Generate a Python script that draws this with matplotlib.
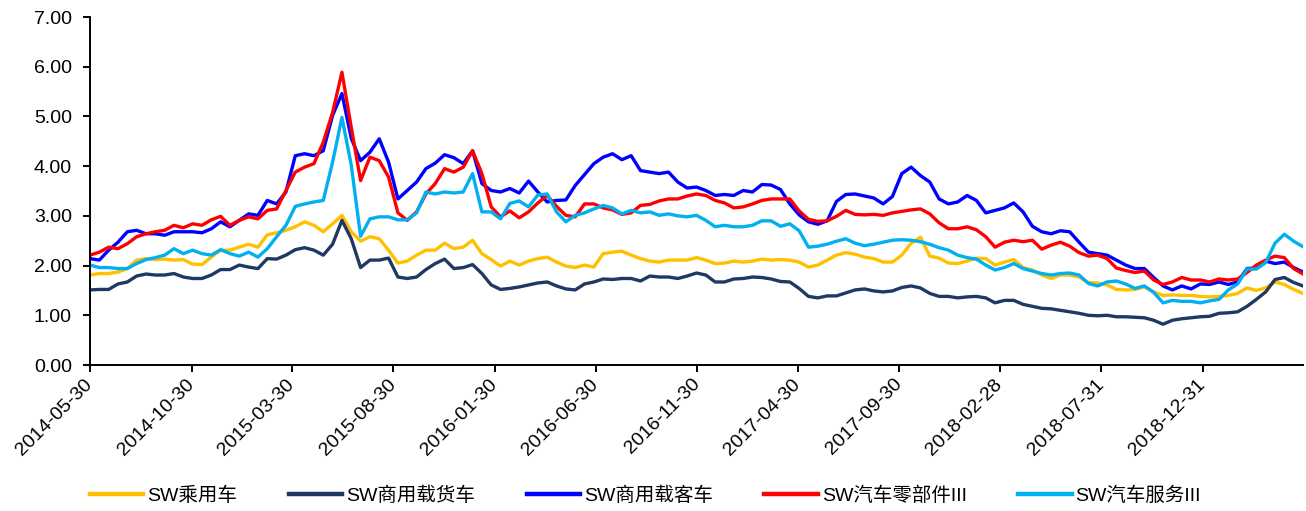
import matplotlib
matplotlib.use("Agg")
import matplotlib.pyplot as plt
import pandas as pd

plt.rcParams['font.family'] = ['Liberation Sans', 'Noto Sans CJK SC', 'DejaVu Sans']

start_date = '2014-05-30'
end_date = '2019-05-31'
n_points = 131

series_names = ['SW乘用车', 'SW商用载货车', 'SW商用载客车', 'SW汽车零部件III', 'SW汽车服务III']
series_colors = ['#FFC000', '#1F3864', '#0000FF', '#FF0000', '#00B0F0']

passenger_car = [
    1.81, 1.84, 1.84, 1.87, 1.94, 2.11, 2.14, 2.12, 2.13, 2.11, 2.12, 2.03, 2.02, 2.17, 2.31, 2.31, 2.37, 2.43, 2.37, 2.62, 2.66, 2.71, 2.78,
    2.88, 2.81, 2.68, 2.84, 3.01, 2.68, 2.49, 2.58, 2.54, 2.31, 2.05, 2.09, 2.21, 2.31, 2.31, 2.45, 2.34, 2.37, 2.51, 2.24, 2.12, 1.99,
    2.09, 2.01, 2.09, 2.14, 2.17, 2.07, 1.99, 1.96, 2.01, 1.97, 2.24, 2.27, 2.29, 2.21, 2.14, 2.09, 2.07, 2.11, 2.11, 2.11, 2.16, 2.11,
    2.04, 2.05, 2.09, 2.07, 2.09, 2.13, 2.11, 2.12, 2.11, 2.07, 1.97, 2.01, 2.11, 2.21, 2.26, 2.23, 2.17, 2.14, 2.07, 2.07, 2.21, 2.45,
    2.57, 2.19, 2.15, 2.05, 2.04, 2.09, 2.15, 2.14, 2.01, 2.07, 2.12, 1.96, 1.91, 1.81, 1.74, 1.81, 1.81, 1.77, 1.66, 1.65, 1.61, 1.52,
    1.51, 1.52, 1.57, 1.47, 1.40, 1.41, 1.40, 1.40, 1.38, 1.37, 1.38, 1.40, 1.44, 1.55, 1.50, 1.55, 1.67, 1.62, 1.52, 1.44,
]

freight_vehicle = [
    1.51, 1.52, 1.52, 1.63, 1.67, 1.79, 1.83, 1.81, 1.81, 1.84, 1.77, 1.74, 1.74, 1.81, 1.92, 1.92, 2.01, 1.97, 1.94, 2.14, 2.13, 2.21, 2.32,
    2.36, 2.31, 2.21, 2.43, 2.91, 2.54, 1.96, 2.11, 2.11, 2.15, 1.77, 1.74, 1.77, 1.92, 2.04, 2.13, 1.94, 1.96, 2.02, 1.84, 1.61, 1.52,
    1.54, 1.57, 1.61, 1.65, 1.67, 1.59, 1.53, 1.51, 1.63, 1.67, 1.73, 1.72, 1.74, 1.74, 1.69, 1.79, 1.77, 1.77, 1.74, 1.79, 1.85, 1.81,
    1.67, 1.67, 1.73, 1.74, 1.77, 1.76, 1.73, 1.68, 1.67, 1.54, 1.38, 1.35, 1.39, 1.39, 1.45, 1.51, 1.53, 1.49, 1.47, 1.49, 1.56, 1.59,
    1.55, 1.44, 1.38, 1.38, 1.35, 1.37, 1.38, 1.35, 1.25, 1.30, 1.30, 1.22, 1.18, 1.14, 1.13, 1.10, 1.07, 1.04, 1.00, 0.99, 1.00, 0.97,
    0.97, 0.96, 0.95, 0.90, 0.82, 0.90, 0.93, 0.95, 0.97, 0.98, 1.04, 1.05, 1.07, 1.18, 1.32, 1.47, 1.72, 1.76, 1.66, 1.59,
]

bus = [
    2.14, 2.11, 2.31, 2.47, 2.68, 2.71, 2.64, 2.64, 2.61, 2.68, 2.68, 2.68, 2.66, 2.74, 2.88, 2.78, 2.91, 3.04, 3.01, 3.31, 3.24, 3.48, 4.21,
    4.25, 4.21, 4.31, 5.02, 5.46, 4.56, 4.11, 4.28, 4.55, 4.08, 3.34, 3.51, 3.68, 3.95, 4.06, 4.23, 4.17, 4.05, 4.31, 3.65, 3.51, 3.48,
    3.55, 3.46, 3.70, 3.48, 3.28, 3.31, 3.32, 3.61, 3.83, 4.05, 4.18, 4.25, 4.13, 4.21, 3.91, 3.88, 3.85, 3.88, 3.68, 3.56, 3.58, 3.51,
    3.41, 3.43, 3.41, 3.51, 3.48, 3.63, 3.62, 3.53, 3.24, 3.02, 2.88, 2.83, 2.90, 3.29, 3.43, 3.44, 3.40, 3.36, 3.24, 3.39, 3.85, 3.98,
    3.81, 3.68, 3.34, 3.24, 3.28, 3.41, 3.31, 3.06, 3.11, 3.16, 3.26, 3.08, 2.79, 2.68, 2.64, 2.70, 2.68, 2.47, 2.27, 2.24, 2.21, 2.11,
    2.01, 1.94, 1.94, 1.76, 1.59, 1.51, 1.59, 1.53, 1.63, 1.62, 1.67, 1.62, 1.67, 1.94, 1.95, 2.09, 2.04, 2.07, 1.96, 1.87,
]

auto_parts = [
    2.21, 2.27, 2.37, 2.34, 2.44, 2.58, 2.64, 2.68, 2.71, 2.81, 2.76, 2.84, 2.81, 2.92, 2.99, 2.81, 2.91, 2.98, 2.94, 3.11, 3.14, 3.51, 3.88,
    3.98, 4.05, 4.48, 5.08, 5.89, 4.78, 3.71, 4.18, 4.11, 3.78, 3.06, 2.91, 3.08, 3.44, 3.65, 3.95, 3.88, 3.98, 4.31, 3.85, 3.18, 2.98,
    3.10, 2.96, 3.08, 3.26, 3.41, 3.19, 3.01, 2.98, 3.24, 3.24, 3.16, 3.12, 3.03, 3.06, 3.21, 3.23, 3.30, 3.34, 3.34, 3.40, 3.44, 3.41,
    3.31, 3.26, 3.16, 3.18, 3.24, 3.31, 3.34, 3.34, 3.34, 3.10, 2.93, 2.89, 2.90, 2.99, 3.11, 3.03, 3.02, 3.03, 3.01, 3.06, 3.09, 3.12,
    3.14, 3.04, 2.86, 2.74, 2.74, 2.78, 2.72, 2.58, 2.37, 2.47, 2.51, 2.48, 2.51, 2.33, 2.41, 2.47, 2.39, 2.26, 2.19, 2.21, 2.14, 1.95,
    1.90, 1.86, 1.89, 1.71, 1.62, 1.67, 1.76, 1.71, 1.71, 1.67, 1.73, 1.71, 1.73, 1.86, 2.01, 2.11, 2.19, 2.16, 1.94, 1.83,
]

auto_service = [
    2.01, 1.96, 1.96, 1.94, 1.94, 2.04, 2.12, 2.16, 2.21, 2.34, 2.24, 2.31, 2.24, 2.21, 2.32, 2.24, 2.19, 2.27, 2.17, 2.34, 2.58, 2.81, 3.19,
    3.24, 3.28, 3.31, 4.08, 4.98, 4.02, 2.59, 2.94, 2.98, 2.98, 2.92, 2.92, 3.06, 3.48, 3.44, 3.48, 3.46, 3.48, 3.85, 3.08, 3.08, 2.94,
    3.25, 3.30, 3.18, 3.42, 3.44, 3.08, 2.88, 3.01, 3.06, 3.14, 3.21, 3.16, 3.04, 3.11, 3.06, 3.08, 3.01, 3.04, 3.00, 2.98, 3.01, 2.91,
    2.78, 2.81, 2.78, 2.78, 2.81, 2.90, 2.90, 2.79, 2.84, 2.70, 2.37, 2.39, 2.43, 2.49, 2.54, 2.45, 2.40, 2.43, 2.47, 2.51, 2.52, 2.51,
    2.48, 2.43, 2.36, 2.31, 2.21, 2.16, 2.13, 2.01, 1.91, 1.96, 2.04, 1.94, 1.89, 1.84, 1.81, 1.84, 1.85, 1.81, 1.64, 1.59, 1.67, 1.69,
    1.63, 1.54, 1.59, 1.46, 1.25, 1.30, 1.28, 1.28, 1.25, 1.29, 1.32, 1.51, 1.63, 1.93, 1.93, 2.06, 2.45, 2.63, 2.49, 2.38,
]

tick_dates = ['2014-05-30', '2014-10-30', '2015-03-30', '2015-08-30', '2016-01-30', '2016-06-30',
              '2016-11-30', '2017-04-30', '2017-09-30', '2018-02-28', '2018-07-31', '2018-12-31']
y_ticks = [0, 1, 2, 3, 4, 5, 6, 7]

dates = pd.date_range(start_date, end_date, periods=n_points)
all_series = [passenger_car, freight_vehicle, bus, auto_parts, auto_service]

W, H = 1306, 511
fig = plt.figure(figsize=(W / 100, H / 100), dpi=100)
ax = fig.add_axes([90 / W, 1 - 365 / H, (1303 - 90) / W, (365 - 17) / H])

for vals, name, col in zip(all_series, series_names, series_colors):
    ax.plot(dates, vals, color=col, lw=2.4, label=name, solid_joinstyle='round')

ax.set_ylim(0, 7)
ax.set_yticks(y_ticks)
ax.yaxis.set_major_formatter(matplotlib.ticker.FormatStrFormatter('%.2f'))
ax.set_xlim(pd.Timestamp(start_date), pd.Timestamp(end_date))
ax.set_xticks([pd.Timestamp(t) for t in tick_dates])
ax.set_xticklabels(tick_dates, rotation=45, ha='right', va='center', rotation_mode='anchor')

for s in ['top', 'right']:
    ax.spines[s].set_visible(False)
for s in ['left', 'bottom']:
    ax.spines[s].set_linewidth(1.4)
    ax.spines[s].set_color('black')

ax.tick_params(axis='y', direction='out', length=5, width=1.4, labelsize=14, pad=8)
ax.tick_params(axis='x', direction='out', length=5, width=1.4, labelsize=14, pad=7)

handles, labels = ax.get_legend_handles_labels()
leg = fig.legend(handles, labels, loc='center left', bbox_to_anchor=(90 / W, 1 - 496 / H),
                 ncol=5, frameon=False, fontsize=14, handlelength=2.75, handletextpad=0.2,
                 columnspacing=2.65, borderpad=0, borderaxespad=0)
for line in leg.get_lines():
    line.set_linewidth(3.2)

fig.savefig('out.png', dpi=100)
